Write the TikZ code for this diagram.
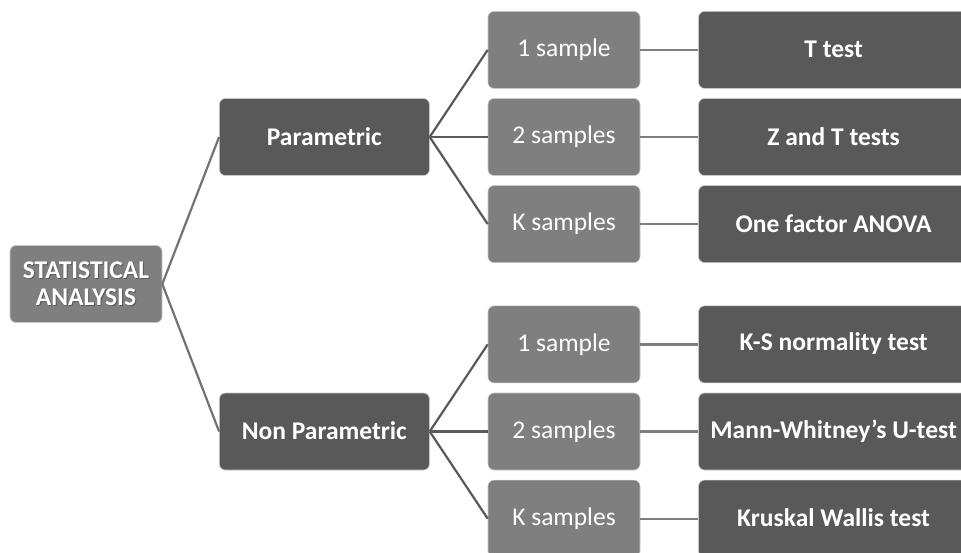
\documentclass[tikz,border=0pt]{standalone}
\usepackage{fontspec}
\setmainfont{Carlito}
\usetikzlibrary{positioning}
\definecolor{lightbox}{HTML}{7F7F7F}
\definecolor{darkbox}{HTML}{595959}
\newcommand{\shd}[1]{\leavevmode\rlap{\kern1pt\raisebox{-1pt}{\color{black!65}#1}}#1}
\tikzset{
  box/.style={
    rectangle, rounded corners=6pt, draw=black!22, line width=0.6pt,
    minimum height=77pt, inner sep=0pt, text=white,
    font=\fontsize{25.5}{27}\selectfont, align=center
  },
  rootbox/.style={box, fill=lightbox, minimum width=152pt, font=\fontsize{25.5}{27}\selectfont\bfseries},
  method/.style={box, fill=darkbox, minimum width=210pt, font=\fontsize{25.5}{27}\selectfont\bfseries},
  sample/.style={box, fill=lightbox, minimum width=152pt},
  result/.style={box, fill=darkbox, minimum width=270pt, font=\fontsize{25.5}{27}\selectfont\bfseries},
  node distance=9.5pt and 58pt, x=1pt, y=1pt
}

\begin{document}
\begin{tikzpicture}
    \useasboundingbox (0,0) rectangle (961,-553);
    \clip (0,0) rectangle (961,-553);

    \node[sample] (p2) at (564,-137) {2 samples};
    \node[sample, above = of p2] (p1) {1 sample};
    \node[sample, below = of p2] (pk) {K samples};
    \node[sample] (n2) at (564,-431.5) {2 samples};
    \node[sample, above = of n2] (n1) {1 sample};
    \node[sample, below = of n2] (nk) {K samples};

    \node[method, left = of p2] (par) {\shd{Parametric}};
    \node[method, left = of n2] (npar) {\shd{Non Parametric}};
    \node[rootbox] (root) at (86,-284) {\shd{STATISTICAL}\\\shd{ANALYSIS}};

    \node[result, right = of p1] (ttest) {\shd{T test}};
    \node[result, right = of p2] (zt) {\shd{Z and T tests}};
    \node[result, right = of pk] (anova) {\shd{One factor ANOVA}};
    \node[result, right = of n1] (ks) {\shd{K-S normality test}};
    \node[result, right = of n2] (mw) {\shd{Mann-Whitney’s U-test}};
    \node[result, right = of nk] (kw) {\shd{Kruskal Wallis test}};

    \draw[lightbox!90!black, line width=2.2pt]
          (root.east)    edge    (par.west)
          (root.east)    edge    (npar.west);
    \draw[darkbox, line width=2.2pt]
          (par.east)     edge    (p1.west)
          (par.east)     edge    (p2.west)
          (par.east)     edge    (pk.west)
          (npar.east)    edge    (n1.west)
          (npar.east)    edge    (n2.west)
          (npar.east)    edge    (nk.west);
    \draw[lightbox, line width=2.2pt]
          (p1.east)      edge    (ttest.west)
          (p2.east)      edge    (zt.west)
          (pk.east)      edge    (anova.west)
          (n1.east)      edge    (ks.west)
          (n2.east)      edge    (mw.west)
          (nk.east)      edge    (kw.west);
  \end{tikzpicture}
\end{document}
